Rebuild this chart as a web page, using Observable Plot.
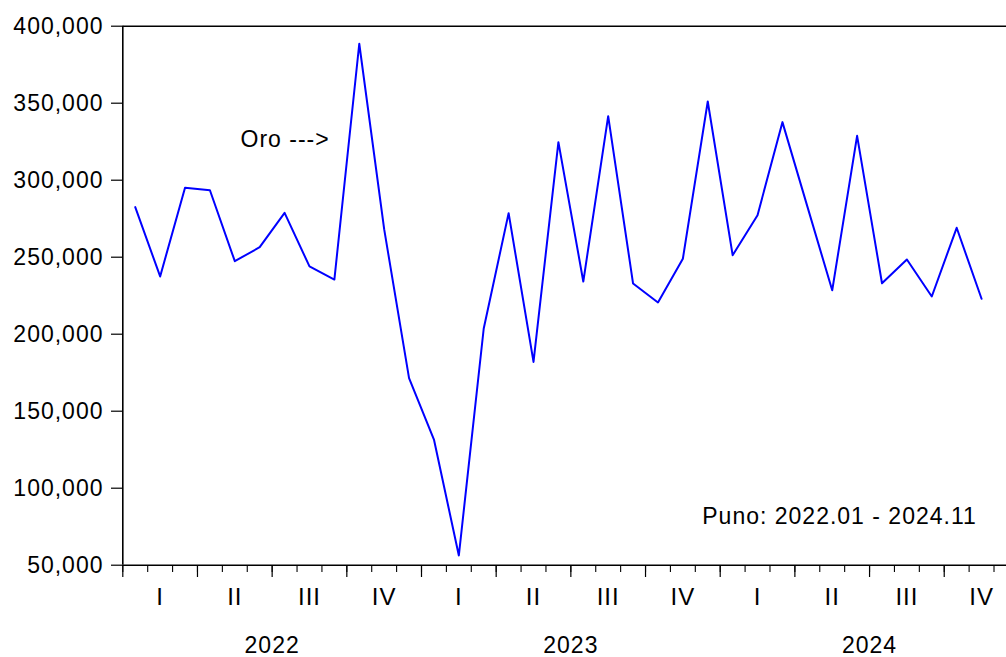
<!DOCTYPE html>
<html><head><meta charset="utf-8">
<script src="https://cdn.jsdelivr.net/npm/d3@7"></script>
<script src="https://cdn.jsdelivr.net/npm/@observablehq/plot@0.6"></script>
<style>
html,body{margin:0;padding:0;background:#fff;overflow:hidden;}
#chart svg{letter-spacing:1px;}
</style></head><body><div id="chart"></div>
<script>
const years = ["2022", "2023", "2024"];
const monthsPerYear = 12;
const months = [];
years.forEach(y => { for (let m = 1; m <= monthsPerYear; m++) months.push(y + "." + String(m).padStart(2, "0")); });
months.length = 35; // 2022.01 - 2024.11
const values = [282500, 237500, 295100, 293500, 247400, 256500, 278800, 244000, 235500,
  388600, 268200, 171500, 131600, 56300, 203700, 278600, 182000, 324700, 234200, 341600,
  232900, 220600, 249000, 351100, 251300, 277300, 337700, 283000, 228500, 328800, 233100,
  248500, 224500, 269100, 223000];
const quarterLabels = ["I", "II", "III", "IV"];
const yTicks = [50000, 100000, 150000, 200000, 250000, 300000, 350000, 400000];
const seriesLabel = "Oro --->";
const rangeNote = "Puno: 2022.01 - 2024.11";

const data = months.map((m, i) => ({pos: i + 0.5, month: m, value: values[i]}));
const totalMonths = years.length * monthsPerYear;
const monthTicks = d3.range(0, totalMonths + 1);
const quarterTicks = d3.range(0, totalMonths + 1, 3);
const quarterCenters = d3.range(totalMonths / 3).map(q => ({pos: q * 3 + 1.5, label: quarterLabels[q % 4]}));
const yearCenters = years.map((y, i) => ({pos: i * 12 + 6, label: y}));

const chart = Plot.plot({
  width: 1006,
  height: 657,
  marginLeft: 122,
  marginRight: 0,
  marginTop: 26,
  marginBottom: 92,
  style: {fontFamily: "'Liberation Sans', Arial, sans-serif", fontSize: "23px", background: "#fff", color: "#000"},
  x: {type: "linear", domain: [0, totalMonths], range: [122.3, 1018.4], label: null},
  y: {domain: [50000, 400000], range: [564.7, 25.7], label: null},
  marks: [
    Plot.ruleY([400000], {x1: () => 0, x2: () => totalMonths, stroke: "#000", strokeWidth: 1.6}),
    Plot.ruleY([50000], {x1: () => 0, x2: () => totalMonths, stroke: "#000", strokeWidth: 1.6}),
    Plot.ruleX([0], {y1: () => 50000, y2: () => 400000, stroke: "#000", strokeWidth: 1.6}),
    Plot.axisY({ticks: yTicks, tickSize: 11, tickPadding: 8, tickFormat: d3.format(","), fontSize: 23, strokeWidth: 1.2, label: null}),
    Plot.axisX({ticks: monthTicks, tickSize: 7, tickFormat: () => "", strokeWidth: 1.1, label: null}),
    Plot.axisX({ticks: quarterTicks, tickSize: 12, tickFormat: () => "", strokeWidth: 1.2, label: null}),
    Plot.text(quarterCenters, {x: "pos", y: () => 50000, text: "label", dy: 32, fontSize: 24, fill: "#000"}),
    Plot.text(yearCenters, {x: "pos", y: () => 50000, text: "label", dy: 80, fontSize: 23, fill: "#000"}),
    Plot.line(data, {x: "pos", y: "value", stroke: "#0000ff", strokeWidth: 2}),
    Plot.text([seriesLabel], {x: () => 4.73, y: () => 326400, text: d => d, textAnchor: "start", fontSize: 23, fill: "#000"}),
    Plot.text([rangeNote], {x: () => 23.28, y: () => 81600, text: d => d, textAnchor: "start", fontSize: 23, fill: "#000"})
  ]
});
document.getElementById("chart").appendChild(chart);
</script></body></html>
